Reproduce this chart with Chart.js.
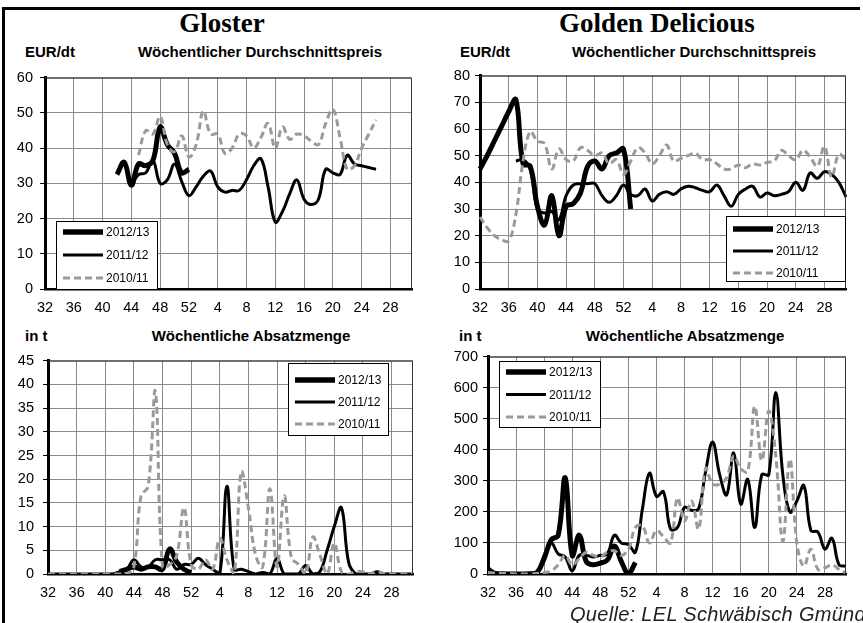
<!DOCTYPE html>
<html>
<head>
<meta charset="utf-8">
<script src="https://cdn.jsdelivr.net/npm/chart.js@4.4.1/dist/chart.umd.min.js"></script>
<style>
  body { margin: 0; background: #fff; }
  #page { position: relative; width: 863px; height: 623px; overflow: hidden; background: #fff; font-family: "Liberation Sans", Arial, sans-serif; }
  canvas { position: absolute; }
  .t { position: absolute; white-space: nowrap; color: #000; }
  .head { font-family: "Liberation Serif", serif; font-weight: bold; font-size: 27px; line-height: 27px; transform: translateX(-50%); }
  .sub { font-weight: bold; font-size: 15px; line-height: 15px; }
  .mid { transform: translateX(-50%); }
  .quelle { font-style: italic; font-size: 20px; line-height: 20px; color: #222; letter-spacing: 0.3px; }
  .rule { position: absolute; background: #000; }
</style>
</head>
<body>
<div id="page">
  <div class="rule" style="left:2px;top:7px;width:3px;height:616px"></div>
  <div class="rule" style="left:2px;top:7px;width:858px;height:3px"></div>

  <div class="t head" style="left:222px;top:10px">Gloster</div>
  <div class="t head" style="left:657px;top:10px">Golden Delicious</div>

  <div class="t sub" style="left:25px;top:44px">EUR/dt</div>
  <div class="t sub mid" style="left:260px;top:44px">Wöchentlicher Durchschnittspreis</div>
  <div class="t sub" style="left:460px;top:44px">EUR/dt</div>
  <div class="t sub mid" style="left:694px;top:44px">Wöchentlicher Durchschnittspreis</div>

  <div class="t sub" style="left:25px;top:328px">in t</div>
  <div class="t sub mid" style="left:251px;top:328px">Wöchentliche Absatzmenge</div>
  <div class="t sub" style="left:459px;top:328px">in t</div>
  <div class="t sub mid" style="left:685px;top:328px">Wöchentliche Absatzmenge</div>

  <canvas id="glosterPrice" width="428" height="257" style="left:0;top:62px"></canvas>
  <canvas id="goldenPrice" width="430" height="257" style="left:430px;top:62px"></canvas>
  <canvas id="glosterVolume" width="428" height="261" style="left:0;top:343px"></canvas>
  <canvas id="goldenVolume" width="430" height="261" style="left:430px;top:343px"></canvas>

  <div class="t quelle" style="left:570px;top:604px">Quelle: LEL Schwäbisch Gmünd</div>
</div>

<script>
// weeks 32..52 then 1..31
const weeks = ["32","33","34","35","36","37","38","39","40","41","42","43","44","45","46","47","48","49","50","51","52",
  "1","2","3","4","5","6","7","8","9","10","11","12","13","14","15","16","17","18","19","20","21","22","23","24","25","26","27","28","29","30","31"];
const seasons = ["2012/13", "2011/12", "2010/11"];

// Gloster - EUR/dt
const glosterPrice1213 = [null,null,null,null,null,null,null,null,null,null,32.5,36,29.5,35.5,35,36.5,46,41,38.5,33,34,
  null,null,null,null,null,null,null,null,null,null,null,null,null,null,null,null,null,null,null,null,null,null,null,null,null,null,null,null,null,null,null];
const glosterPrice1112 = [null,null,null,null,null,null,null,null,null,null,null,null,29.5,32.5,33,36.5,30,31,35.5,30.5,26.5,
  29,32,33.5,29,27.5,28,28,31,35,37,29,19,22,27,31,25.5,24,25.5,34,33,32.5,38,35.5,35,34.5,34,null,null,null,null,null];
const glosterPrice1011 = [null,null,null,null,null,null,null,null,null,null,null,null,null,38,45,44,49,41,39,43.5,37.5,
  41,50.5,44,44,38.5,40,44,43.5,40,43,47,40,46,42.5,44,43.5,42,41,47,51,43,34,35,40,44,48,null,null,null,null,null];

// Golden Delicious - EUR/dt
const goldenPrice1213 = [45,50,55.5,61,66.5,71,47,46,31,24,35,20,31,32,36,46,48,45,50,51,52.5,
  30,null,null,null,null,null,null,null,null,null,null,null,null,null,null,null,null,null,null,null,null,null,null,null,null,null,null,null,null,null,null];
const goldenPrice1112 = [null,null,null,null,null,48,48.5,45,30,28.5,29,26,35,39,39.5,39.5,39.5,35,32.5,35,39,
  35.5,35,37.5,33,35.5,36.5,35.5,37.5,38.5,38,37,36.5,39,35,31,35.5,37.5,38.5,34.5,36,35,35.5,36.5,40,37,43.5,41.5,44,43,40,34.5];
const goldenPrice1011 = [27,23,20,18.5,18,28,48,59,55.5,54.5,45,52.5,48.5,48,53,52,50,51,47,48.5,43,
  48,53,51,47,50,54,48,49,50,51,48.5,48.5,47,45,45,46.5,45.5,47,46.5,47.5,48,52,50,48.5,52,49.5,46,53.5,42,50.5,48.5];

// Gloster - t
const glosterVolume1213 = [null,null,null,null,null,null,null,null,null,null,0.5,1,1.5,1,1.5,1.5,1,5.3,2.5,1,0.3,
  null,null,null,null,null,null,null,null,null,null,null,null,null,null,null,null,null,null,null,null,null,null,null,null,null,null,null,null,null,null,null];
const glosterVolume1112 = [0,0,0,0,0,0,0,0,0,0,0.5,1,3,1.5,1.5,3,3,3,1,2,2,
  3.3,2,1,0,18.5,1,1,0.5,0,0.3,0,3.3,0,0,0,1.8,0,0.5,5,10,14,2.5,0,0,0,0.5,0,0,0,0,0];
const glosterVolume1011 = [0,0,0,0,0,0,0,0,0,0,0,0,1.5,16.5,18.5,38.5,1.5,2,4,14,2,
  1,3,1,7.5,3,0,21.5,14,4,1.5,18,1.5,16.5,3.5,2,0,7.8,4,0,6.5,0.5,0,0.5,0.5,0,0.5,0,0,0,0,0];

// Golden Delicious - t
const goldenVolume1213 = [0,0,0,0,0,0,0,5,50,110,125,310,60,125,40,30,35,45,90,40,2,
  37,null,null,null,null,null,null,null,null,null,null,null,null,null,null,null,null,null,null,null,null,null,null,null,null,null,null,null,null,null,null];
const goldenVolume1112 = [20,5,3,2,2,2,3,5,60,100,65,55,10,60,60,55,60,65,125,100,95,
  70,210,325,250,265,145,150,215,205,210,330,425,320,255,390,225,305,150,320,320,585,320,200,235,285,140,135,80,115,30,25];
const goldenVolume1011 = [5,3,2,1,0,0,0,2,5,10,30,60,30,50,70,60,55,70,75,60,80,
  150,155,100,140,120,100,245,170,235,145,340,290,290,310,380,340,330,540,365,525,380,105,370,100,25,80,15,20,30,15,3];

const font = "Liberation Sans";
const gridGray = "#8a8a8a";
const dashGray = "#9a9a9a";

// right and top edge of the plot area
const frame = {
  id: "frame",
  afterDatasetsDraw(chart) {
    const a = chart.chartArea;
    const ctx = chart.ctx;
    ctx.save();
    ctx.strokeStyle = "#333";
    ctx.lineWidth = 1;
    ctx.beginPath();
    ctx.moveTo(a.left, a.top + 0.5);
    ctx.lineTo(a.right - 0.5, a.top + 0.5);
    ctx.lineTo(a.right - 0.5, a.bottom);
    ctx.stroke();
    ctx.restore();
  }
};

// legend box drawn inside the plot
const boxLegend = {
  id: "boxLegend",
  afterDraw(chart, args, o) {
    const ctx = chart.ctx;
    ctx.save();
    ctx.fillStyle = "#fff";
    ctx.fillRect(o.x, o.y, o.w, o.h);
    ctx.strokeStyle = "#000";
    ctx.lineWidth = 1;
    ctx.strokeRect(o.x + 0.5, o.y + 0.5, o.w, o.h);
    chart.data.datasets.forEach((ds, i) => {
      const y = o.y + o.first + i * o.gap;
      ctx.beginPath();
      ctx.setLineDash(ds.borderDash || []);
      ctx.lineWidth = ds.borderWidth + (i == 0 ? 0.5 : 0);
      ctx.strokeStyle = ds.borderColor;
      ctx.moveTo(o.x + 7, y);
      ctx.lineTo(o.x + 47, y);
      ctx.stroke();
      ctx.setLineDash([]);
      ctx.fillStyle = "#000";
      ctx.font = "12px " + font;
      ctx.textBaseline = "middle";
      ctx.fillText(ds.label, o.x + 50, y + 1);
    });
    ctx.restore();
  }
};

function makeChart(id, s1, s2, s3, p) {
  return new Chart(document.getElementById(id), {
    type: "line",
    data: {
      labels: weeks,
      datasets: [
        { label: seasons[0], data: s1, borderColor: "#000", borderWidth: 5, order: 3 },
        { label: seasons[1], data: s2, borderColor: "#000", borderWidth: 3, order: 2 },
        { label: seasons[2], data: s3, borderColor: dashGray, borderWidth: 3, borderDash: [7, 4], order: 1 }
      ]
    },
    options: {
      responsive: false,
      animation: false,
      layout: { padding: { top: p.top, right: p.right, left: 0, bottom: 0 } },
      elements: { point: { radius: 0 }, line: { tension: 0.4, borderCapStyle: "butt" } },
      plugins: { legend: { display: false }, tooltip: { enabled: false }, boxLegend: p.legend },
      scales: {
        x: {
          offset: false,
          grid: { color: c => (c.index % 4 == 0 ? gridGray : "rgba(0,0,0,0)"), drawTicks: false },
          border: { color: "#000", width: 2.5 },
          ticks: {
            autoSkip: false, maxRotation: 0, padding: 10, color: "#000",
            font: { family: font, size: 14.5 },
            callback: (v, i) => (i % 4 == 0 ? weeks[i] : "")
          },
          afterFit: sc => { sc.height = 30; }
        },
        y: {
          min: 0, max: p.max,
          ticks: { stepSize: p.step, color: "#000", padding: p.ypad, font: { family: font, size: 14.5 } },
          grid: { color: gridGray, tickColor: "#000", tickLength: 5 },
          border: { color: "#000", width: 3 },
          afterFit: sc => { sc.width = p.yw; }
        }
      }
    },
    plugins: [frame, boxLegend]
  });
}

makeChart("glosterPrice", glosterPrice1213, glosterPrice1112, glosterPrice1011,
  { top: 13, right: 16, yw: 45, ypad: 7, max: 60, step: 10, legend: { x: 56, y: 159, w: 101, h: 68, first: 11, gap: 23 } });
makeChart("goldenPrice", goldenPrice1213, goldenPrice1112, goldenPrice1011,
  { top: 13, right: 14, yw: 50, ypad: 5, max: 80, step: 10, legend: { x: 296, y: 154, w: 119, h: 65, first: 13, gap: 22 } });
makeChart("glosterVolume", glosterVolume1213, glosterVolume1112, glosterVolume1011,
  { top: 13, right: 15, yw: 48, ypad: 9, max: 45, step: 5, legend: { x: 288, y: 20, w: 100, h: 72, first: 17, gap: 22 } });
makeChart("goldenVolume", goldenVolume1213, goldenVolume1112, goldenVolume1011,
  { top: 10, right: 14, yw: 58, ypad: 5, max: 700, step: 100, legend: { x: 69, y: 18, w: 101, h: 66, first: 11, gap: 22.5 } });
</script>
</body>
</html>
